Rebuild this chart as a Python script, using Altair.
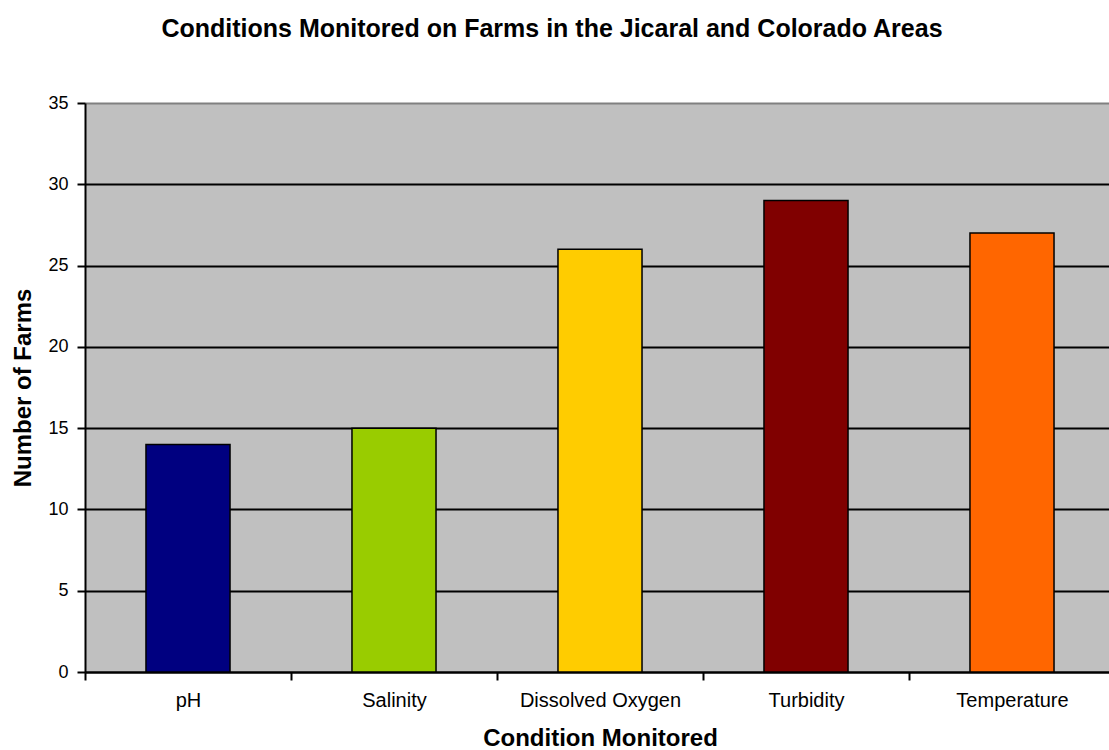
import altair as alt
import pandas as pd

categories = ["pH", "Salinity", "Dissolved Oxygen", "Turbidity", "Temperature"]
counts = [14, 15, 26, 29, 27]
bar_colors = ["#000080", "#99CC00", "#FFCC00", "#800000", "#FF6600"]
y_ticks = [0, 5, 10, 15, 20, 25, 30, 35]

df = pd.DataFrame({"Condition": categories, "Farms": counts})

FONT = "Liberation Sans"

chart = alt.Chart(df).mark_bar(stroke="black", strokeWidth=1.5).encode(
    x=alt.X(
        "Condition:N",
        sort=categories,
        scale=alt.Scale(range=[0, 1030], paddingInner=0.592, paddingOuter=0.296),
        axis=alt.Axis(
            title="Condition Monitored",
            labelAngle=0,
            labelFont=FONT,
            labelFontSize=20,
            labelColor="black",
            labelPadding=10,
            tickOffset=-103,
            labelOffset=103,
            tickSize=8,
            tickWidth=2,
            tickColor="black",
            domainColor="black",
            domainWidth=2,
            titleFont=FONT,
            titleFontSize=24,
            titleFontWeight="bold",
            titleColor="black",
            titleX=515,
            titleY=73,
            titleBaseline="alphabetic",
            titleAlign="center",
            grid=False,
        ),
    ),
    y=alt.Y(
        "Farms:Q",
        scale=alt.Scale(domain=[0, 35], nice=False),
        axis=alt.Axis(
            title="Number of Farms",
            values=y_ticks,
            labelFont=FONT,
            labelFontSize=18,
            labelColor="black",
            labelPadding=9,
            tickSize=8,
            tickWidth=2,
            tickColor="black",
            domainColor="black",
            domainWidth=2,
            grid=True,
            gridColor={"condition": {"test": "datum.value == 35", "value": "#808080"}, "value": "black"},
            gridWidth=2,
            titleFont=FONT,
            titleFontSize=24,
            titleFontWeight="bold",
            titleColor="black",
            titleAngle=270,
            titleX=-62,
            titleY=284.5,
            titleAlign="center",
            titleBaseline="middle",
        ),
    ),
    color=alt.Color(
        "Condition:N",
        scale=alt.Scale(domain=categories, range=bar_colors),
        legend=None,
    ),
).properties(
    width=1024,
    height=569,
    autosize=alt.AutoSizeParams(type="none"),
    padding={"left": 85, "top": 103, "right": 0, "bottom": 78},
    background="white",
    title=alt.TitleParams(
        "Conditions Monitored on Farms in the Jicaral and Colorado Areas",
        font=FONT,
        fontSize=25,
        fontWeight="bold",
        color="black",
        anchor="middle",
        dx=-45,
        offset=32,
        baseline="alphabetic",
    ),
).configure_view(
    fill="#C0C0C0",
    stroke=None,
)

chart.save("out.html", embed_options={"renderer": "svg", "actions": False})
